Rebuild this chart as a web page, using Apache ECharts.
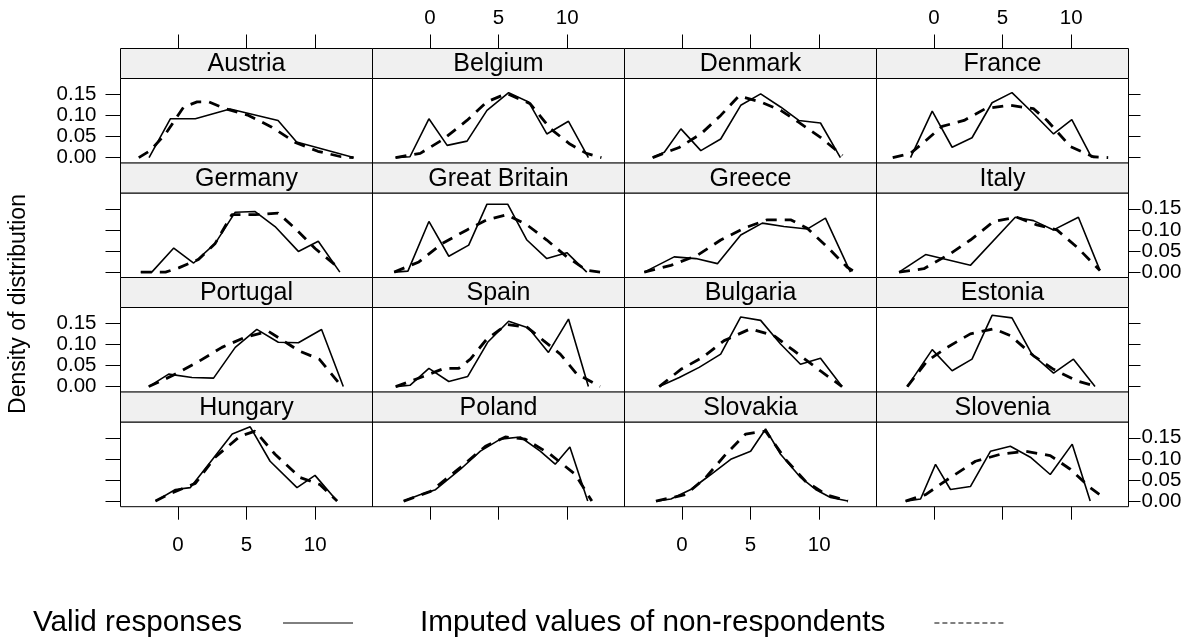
<!DOCTYPE html>
<html>
<head>
<meta charset="utf-8">
<script src="https://cdn.jsdelivr.net/npm/echarts@6.0.0/dist/echarts.min.js"></script>
</head>
<body style="margin:0; padding:0; background:#fff;">
<div id="chart" style="width:1202px; height:643px;"></div>
<script type="text/javascript">
// panels, read left to right, top to bottom
const countries = ['Austria', 'Belgium', 'Denmark', 'France',
	'Germany', 'Great Britain', 'Greece', 'Italy',
	'Portugal', 'Spain', 'Bulgaria', 'Estonia',
	'Hungary', 'Poland', 'Slovakia', 'Slovenia'];

const xTicks = [0, 5, 10];
const yTicks = [0, 0.05, 0.10, 0.15];

// [x, density] for valid responses / imputed values
const validAustria = [[-2.1,0],[-0.55,0.092],[1.27,0.092],[3.8,0.115],[7.3,0.088],[8.65,0.037],[12.8,0]];
const imputedAustria = [[-2.85,0],[-2.0,0.017],[-0.9,0.056],[0.42,0.12],[1.4,0.132],[2.25,0.132],[3.45,0.116],[5.15,0.1],[6.85,0.072],[8.55,0.036],[10.2,0.015],[11.9,0.002],[12.8,0]];
const validBelgium = [[-2.5,0],[-1.45,0.002],[-0.07,0.092],[1.26,0.029],[2.71,0.039],[4.16,0.112],[5.74,0.154],[7.19,0.132],[8.52,0.056],[10.1,0.086],[11.55,0]];
const imputedBelgium = [[-2.5,0],[-0.7,0.01],[1.0,0.044],[2.7,0.088],[4.15,0.132],[5.6,0.152],[7.3,0.128],[8.8,0.068],[10.2,0.032],[11.4,0.01],[12.5,0]];
const validDenmark = [[-2.13,0],[-1.28,0.0125],[-0.07,0.068],[1.38,0.0165],[2.83,0.044],[4.29,0.124],[5.74,0.151],[7.19,0.12],[8.52,0.088],[10.1,0.082],[11.55,0]];
const imputedDenmark = [[-2.13,0],[-0.2,0.024],[1.38,0.056],[2.83,0.1],[4.15,0.146],[5.74,0.132],[7.2,0.112],[8.5,0.084],[10.1,0.048],[11.7,0.005]];
const validFrance = [[-1.7,0],[-0.12,0.11],[1.33,0.0245],[2.78,0.047],[4.24,0.13],[5.69,0.154],[7.14,0.108],[8.72,0.056],[10.05,0.09],[11.5,0]];
const imputedFrance = [[-3.0,0],[-1.7,0.01],[-0.6,0.04],[0.6,0.074],[2.2,0.088],[3.75,0.116],[5.55,0.124],[7.25,0.116],[8.25,0.088],[9.95,0.026],[11.6,0.002],[12.7,0]];
const validGermany = [[-2.7,0],[-1.9,0],[-0.3,0.057],[1.15,0.0215],[2.72,0.068],[4.18,0.142],[5.63,0.1435],[7.08,0.108],[8.78,0.049],[10.23,0.073],[11.8,0]];
const imputedGermany = [[-2.7,0],[-0.9,0],[0.06,0.01],[1.5,0.03],[2.72,0.068],[3.93,0.136],[5.63,0.136],[7.3,0.14],[8.53,0.104],[10,0.056],[11.8,0.008]];
const validBritain = [[-2.6,0],[-1.6,0.0024],[-0.07,0.12],[1.38,0.0375],[2.83,0.064],[4.16,0.161],[5.67,0.161],[7.07,0.076],[8.52,0.032],[9.98,0.046],[11.43,0]];
const imputedBritain = [[-2.6,0],[-0.8,0.024],[0.9,0.068],[2.7,0.1],[4.16,0.124],[5.6,0.136],[7.07,0.112],[8.52,0.076],[9.98,0.036],[11.43,0.004],[12.4,0]];
const validGreece = [[-2.74,0],[-0.56,0.036],[1.02,0.032],[2.59,0.02],[4.29,0.088],[5.86,0.116],[7.43,0.108],[9.13,0.102],[10.46,0.128],[12.28,0]];
const imputedGreece = [[-2.74,0],[-0.8,0.016],[1.14,0.04],[2.83,0.076],[4.53,0.104],[6.22,0.124],[7.92,0.124],[9.13,0.104],[10.58,0.06],[12.03,0.012],[12.6,0]];
const validItaly = [[-2.54,0],[-0.6,0.0415],[2.66,0.016],[5.93,0.13],[7.26,0.122],[8.72,0.1],[10.53,0.13],[12.1,0.004]];
const imputedItaly = [[-2.54,0],[-0.73,0.008],[1.21,0.044],[2.66,0.076],[4.36,0.12],[6.05,0.13],[7.5,0.112],[8.96,0.1],[10.4,0.06],[12.1,0.004]];
const validPortugal = [[-2.12,0],[-0.67,0.0295],[1.03,0.0215],[2.6,0.02],[4.18,0.093],[5.75,0.1355],[7.32,0.105],[8.78,0.104],[10.47,0.1355],[12.05,0]];
const imputedPortugal = [[-2.12,0],[-0.42,0.0255],[1.39,0.057],[3.21,0.093],[4.9,0.117],[6.6,0.131],[8.05,0.101],[8.8,0.085],[10.3,0.065],[11.9,0.002]];
const validSpain = [[-2.49,0],[-1.45,0.003],[-0.07,0.043],[1.38,0.012],[2.76,0.024],[4.21,0.105],[5.74,0.155],[7.19,0.139],[8.64,0.081],[10.1,0.16],[11.55,0]];
const imputedSpain = [[-2.49,0],[-0.68,0.0215],[1.02,0.043],[2.1,0.043],[2.95,0.065],[4.16,0.113],[5.6,0.147],[7.07,0.141],[8.28,0.109],[9.5,0.077],[10.7,0.03],[12.4,0]];
const validBulgaria = [[-1.65,0],[-0.19,0.0215],[1.26,0.0455],[2.83,0.077],[4.29,0.165],[5.74,0.157],[7.19,0.101],[8.64,0.053],[10.1,0.067],[11.67,0]];
const imputedBulgaria = [[-1.65,0],[-0.07,0.041],[1.5,0.069],[3.08,0.109],[5.0,0.137],[6.7,0.121],[8.16,0.085],[10.1,0.037],[11.67,0]];
const validEstonia = [[-1.94,0],[-0.12,0.0877],[1.33,0.0375],[2.78,0.065],[4.24,0.169],[5.69,0.163],[7.14,0.077],[8.72,0.032],[10.17,0.065],[11.74,0]];
const imputedEstonia = [[-1.94,0],[-0.48,0.061],[0.97,0.093],[2.66,0.125],[4.36,0.137],[5.57,0.121],[7.26,0.073],[8.72,0.041],[10.4,0.0135],[11.86,0]];
const validHungary = [[-1.63,0],[-0.18,0.0275],[0.91,0.032],[2.36,0.092],[3.96,0.159],[5.27,0.176],[6.72,0.0945],[8.68,0.032],[9.99,0.061],[11.6,0]];
const imputedHungary = [[-1.63,0],[-0.55,0.018],[1.27,0.042],[2.72,0.104],[4.54,0.154],[5.63,0.166],[7.08,0.111],[8.9,0.056],[10.36,0.039],[11.6,0]];
const validPoland = [[-1.91,0],[-0.68,0.0155],[0.41,0.027],[2.23,0.0755],[3.68,0.1185],[5.14,0.147],[6.59,0.152],[8.04,0.1185],[9.13,0.0875],[10.2,0.128],[11.5,0]];
const imputedPoland = [[-1.91,0],[0.05,0.023],[2.23,0.08],[4.05,0.13],[5.5,0.152],[6.95,0.147],[8.77,0.111],[10.6,0.063],[11.8,0]];
const validSlovakia = [[-1.89,0],[-0.8,0.005],[0.65,0.0275],[2.11,0.063],[3.56,0.099],[5.01,0.118],[6.1,0.171],[7.19,0.111],[8.65,0.056],[9.74,0.0275],[10.83,0.0084],[12.1,0]];
const imputedSlovakia = [[-1.89,0],[0.29,0.0155],[1.74,0.056],[3.2,0.111],[4.65,0.159],[6.1,0.166],[7.55,0.099],[9.0,0.047],[10.5,0.0155],[12.1,0]];
const validSlovenia = [[-2.06,0],[-0.97,0.005],[0.12,0.087],[1.21,0.0275],[2.66,0.0345],[4.12,0.118],[5.57,0.13],[7.03,0.104],[8.48,0.063],[10.08,0.135],[11.39,0]];
const imputedSlovenia = [[-2.06,0],[-0.6,0.0155],[1.21,0.056],[3.03,0.0945],[4.85,0.111],[6.66,0.118],[8.48,0.108],[9.94,0.0755],[11.39,0.032],[12.48,0.006]];

const valid = [validAustria, validBelgium, validDenmark, validFrance,
	validGermany, validBritain, validGreece, validItaly,
	validPortugal, validSpain, validBulgaria, validEstonia,
	validHungary, validPoland, validSlovakia, validSlovenia];
const imputed = [imputedAustria, imputedBelgium, imputedDenmark, imputedFrance,
	imputedGermany, imputedBritain, imputedGreece, imputedItaly,
	imputedPortugal, imputedSpain, imputedBulgaria, imputedEstonia,
	imputedHungary, imputedPoland, imputedSlovakia, imputedSlovenia];

// layout
const FONT = '"Liberation Sans", Arial, sans-serif';
const colLeft = [120.5, 372.5, 624.5, 876.5];
const panelW = 252;
const rowTop = [48.5, 163, 277.5, 392];
const stripH = 30;
const plotH = 84.7;
const xMin = -4.18, xMax = 14.18;
const yMin = -0.0133, yMax = 0.1875;

const grid = [], xAxis = [], yAxis = [], series = [], graphic = [];

const tickStyle = { color: '#000', width: 1 };
const labelStyle = { color: '#000', fontSize: 20.5, fontFamily: FONT };
const noLine = { show: false, onZero: false };

countries.forEach((name, i) => {
	const r = Math.floor(i / 4), c = i % 4;
	const top = rowTop[r] + stripH;

	grid.push({
		left: colLeft[c], top: top, width: panelW, height: plotH,
		show: true, borderColor: '#000', borderWidth: 1,
		containLabel: false, outerBoundsMode: 'none'
	});

	// bottom + top x axes
	xAxis.push({
		type: 'value', gridIndex: i, min: xMin, max: xMax, position: 'bottom',
		splitLine: { show: false }, axisLine: noLine,
		axisTick: { show: r === 3, length: 13, customValues: xTicks, lineStyle: tickStyle },
		axisLabel: { show: r === 3 && c % 2 === 0, customValues: xTicks, margin: 28, ...labelStyle }
	});
	xAxis.push({
		type: 'value', gridIndex: i, min: xMin, max: xMax, position: 'top', offset: stripH,
		splitLine: { show: false }, axisLine: noLine,
		axisTick: { show: r === 0, length: 14, customValues: xTicks, lineStyle: tickStyle },
		axisLabel: { show: r === 0 && c % 2 === 1, customValues: xTicks, margin: 20, ...labelStyle }
	});

	// left + right y axes
	yAxis.push({
		type: 'value', gridIndex: i, min: yMin, max: yMax, position: 'left',
		splitLine: { show: false }, axisLine: noLine,
		axisTick: { show: c === 0, length: 15, customValues: yTicks, lineStyle: tickStyle },
		axisLabel: { show: c === 0 && r % 2 === 0, customValues: yTicks, margin: 24,
			formatter: v => v.toFixed(2), ...labelStyle }
	});
	yAxis.push({
		type: 'value', gridIndex: i, min: yMin, max: yMax, position: 'right',
		splitLine: { show: false }, axisLine: noLine,
		axisTick: { show: c === 3, length: 12, customValues: yTicks, lineStyle: tickStyle },
		axisLabel: { show: c === 3 && r % 2 === 1, customValues: yTicks, margin: 13,
			formatter: v => v.toFixed(2), ...labelStyle }
	});

	series.push({
		name: 'Valid responses', type: 'line',
		xAxisIndex: 2 * i, yAxisIndex: 2 * i,
		data: valid[i], symbol: 'none', showSymbol: false, silent: true,
		lineStyle: { color: '#000', width: 1.6, type: 'solid' },
		itemStyle: { color: '#000' }
	});
	series.push({
		name: 'Imputed values of non-respondents', type: 'line',
		xAxisIndex: 2 * i, yAxisIndex: 2 * i,
		data: imputed[i], symbol: 'none', showSymbol: false, silent: true,
		lineStyle: { color: '#000', width: 2.8, type: [11, 8] },
		itemStyle: { color: '#000' }
	});

	// strip with the country name
	graphic.push({
		type: 'rect', silent: true,
		shape: { x: colLeft[c], y: rowTop[r], width: panelW, height: stripH },
		style: { fill: '#f0f0f0', stroke: '#000', lineWidth: 1 }
	});
	graphic.push({
		type: 'text', silent: true,
		x: colLeft[c] + panelW / 2, y: rowTop[r] + stripH / 2 + 1,
		style: { text: name, fill: '#000', fontSize: 25, fontFamily: FONT,
			textAlign: 'center', textVerticalAlign: 'middle' }
	});
});

graphic.push({
	type: 'text', silent: true, x: 19, y: 304, rotation: Math.PI / 2,
	style: { text: 'Density of distribution', fill: '#000', fontSize: 23, fontFamily: FONT,
		textAlign: 'center', textVerticalAlign: 'middle' }
});

const legendBase = {
	top: 603, align: 'right', itemWidth: 70, itemHeight: 14,
	selectedMode: false
};
const legendText = { color: '#000', fontSize: 29.7, fontFamily: FONT };

const option = {
	animation: false,
	backgroundColor: '#fff',
	grid: grid,
	xAxis: xAxis,
	yAxis: yAxis,
	series: series,
	graphic: graphic,
	legend: [
		{ ...legendBase, left: 28, textStyle: { ...legendText, padding: [0, 36, 0, 0] },
			data: [{ name: 'Valid responses', itemStyle: { opacity: 0 },
				lineStyle: { width: 1, color: '#000', type: 'solid' } }] },
		{ ...legendBase, left: 415, textStyle: { ...legendText, padding: [0, 44, 0, 0] },
			data: [{ name: 'Imputed values of non-respondents', itemStyle: { opacity: 0 },
				lineStyle: { width: 1, color: '#000', type: [5, 3] } }] }
	]
};

var myChart = echarts.init(document.getElementById('chart'));
myChart.setOption(option);
</script>
</body>
</html>
